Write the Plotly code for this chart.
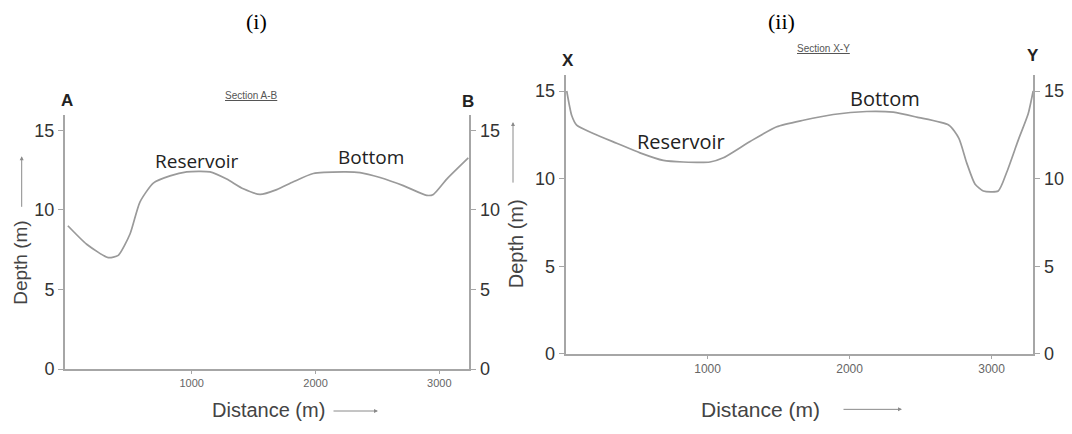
import plotly.graph_objects as go

W, H = 1072, 434

# ---- data: Section A-B (i) ----
dist_ab = [0, 152, 326, 407, 502, 582, 690, 825, 960, 1148, 1283, 1417, 1552,
           1687, 1821, 1982, 2225, 2359, 2521, 2709, 2898, 2952, 3060, 3234]
depth_ab = [9.0, 7.84, 7.0, 7.14, 8.48, 10.49, 11.68, 12.13, 12.38, 12.38, 11.93,
            11.32, 10.97, 11.27, 11.76, 12.28, 12.38, 12.34, 12.03, 11.52, 10.91,
            10.97, 11.93, 13.26]

# ---- data: Section X-Y (ii) ----
dist_xy = [8, 43, 78, 195, 360, 524, 688, 829, 1017, 1111, 1299, 1487, 1674, 1885,
           2120, 2308, 2473, 2700, 2770, 2825, 2883, 2942, 3047, 3106, 3188, 3258, 3293]
depth_xy = [15.0, 13.6, 13.05, 12.58, 12.02, 11.47, 11.04, 10.95, 10.95, 11.19, 12.12,
            12.96, 13.33, 13.66, 13.83, 13.79, 13.51, 13.05, 12.3, 10.9, 9.7, 9.3, 9.3,
            10.35, 12.2, 13.7, 15.0]

x_ticks = [1000, 2000, 3000]
y_ticks = [0, 5, 10, 15]


def px(x):
    return x / W


def py(y):
    return 1 - y / H


LINE = "#9a9a9a"
AX = "#a6a6a6"
TICKFONT = dict(family="Liberation Sans, Arial", size=18, color="#333333")
XTICKFONT = dict(family="Liberation Sans, Arial", size=11, color="#666666")

fig = go.Figure()

curve = dict(mode="lines", line=dict(color=LINE, width=1.7, shape="spline", smoothing=0.6),
             hoverinfo="skip", showlegend=False)
ghost = dict(mode="lines", line=dict(color="rgba(0,0,0,0)", width=0),
             hoverinfo="skip", showlegend=False)

fig.add_trace(go.Scatter(x=dist_ab, y=depth_ab, xaxis="x", yaxis="y", **curve))
fig.add_trace(go.Scatter(x=dist_ab, y=depth_ab, xaxis="x", yaxis="y2", **ghost))
fig.add_trace(go.Scatter(x=dist_xy, y=depth_xy, xaxis="x2", yaxis="y3", **curve))
fig.add_trace(go.Scatter(x=dist_xy, y=depth_xy, xaxis="x2", yaxis="y4", **ghost))

xcommon = dict(showline=True, linecolor=AX, linewidth=2, showgrid=False, zeroline=False,
               tickvals=x_ticks, ticks="outside", ticklen=3, tickcolor=AX,
               tickfont=XTICKFONT, fixedrange=True)
ycommon = dict(showline=True, linecolor=AX, linewidth=2, showgrid=False, zeroline=False,
               tickvals=y_ticks, ticks="outside", ticklen=5, tickcolor=AX,
               tickfont=TICKFONT, fixedrange=True)

fig.update_layout(
    width=W, height=H,
    margin=dict(l=0, r=0, t=0, b=0),
    paper_bgcolor="white", plot_bgcolor="white",
    xaxis=dict(domain=[px(65), px(469.3)], range=[-23, 3242], anchor="y", **xcommon),
    yaxis=dict(domain=[py(377.7), py(118)], range=[0, 15.94], anchor="x", side="left", **ycommon),
    yaxis2=dict(range=[0, 15.94], anchor="x", overlaying="y", side="right", **ycommon),
    xaxis2=dict(domain=[px(565.6), px(1033.3)], range=[0, 3294], anchor="y3",
                **{**xcommon, "tickfont": dict(family="Liberation Sans, Arial", size=12, color="#666666")}),
    yaxis3=dict(domain=[py(362.3), py(77)], range=[0, 15.9], anchor="x2", side="left", **ycommon),
    yaxis4=dict(range=[0, 15.9], anchor="x2", overlaying="y3", side="right", **ycommon),
)

ann = []


def txt(x, y, text, size, color="#333333", family="Liberation Sans, Arial", angle=0, ref="paper", xr=None, yr=None):
    d = dict(x=x, y=y, text=text, showarrow=False, textangle=angle,
             font=dict(family=family, size=size, color=color),
             xanchor="center", yanchor="middle")
    if ref == "paper":
        d.update(xref="paper", yref="paper")
    else:
        d.update(xref=xr, yref=yr)
    ann.append(d)


def arrow(hx, hy, ax, ay):
    ann.append(dict(x=px(hx), y=py(hy), xref="paper", yref="paper", text="",
                    showarrow=True, ax=ax, ay=ay, arrowhead=2, arrowsize=0.8,
                    arrowwidth=1, arrowcolor="#8a8a8a"))


# panel labels
txt(px(256), py(22), "(i)", 22, "#000000", "Liberation Serif, Times New Roman")
txt(px(781), py(22), "(ii)", 22, "#000000", "Liberation Serif, Times New Roman")

# section headings
txt(px(251), py(98), "<u>Section A-B</u>", 10, "#555555")
txt(px(823), py(50), "<u>Section X-Y</u>", 10, "#555555")

# end letters
txt(px(67), py(103), "<b>A</b>", 17, "#222222")
txt(px(468), py(104), "<b>B</b>", 17, "#222222")
txt(px(568), py(62), "<b>X</b>", 17, "#222222")
txt(px(1033), py(57), "<b>Y</b>", 17, "#222222")

# curve labels
txt(1043, 13.06, "Reservoir", 19, "#222222", "Open Sans", ref="data", xr="x", yr="y")
txt(2448, 13.3, "Bottom", 19, "#222222", "Open Sans", ref="data", xr="x", yr="y")
txt(816, 12.12, "Reservoir", 20, "#222222", "Open Sans", ref="data", xr="x2", yr="y3")
txt(2249, 14.59, "Bottom", 20, "#222222", "Open Sans", ref="data", xr="x2", yr="y3")

# axis titles
txt(px(268), py(420), "Distance (m)", 20, "#444444")
txt(px(760), py(419), "Distance (m)", 21, "#444444")
txt(px(21), py(269), "Depth (m)", 19, "#444444", angle=-90)
txt(px(516), py(250), "Depth (m)", 20, "#444444", angle=-90)

# arrows beside axis titles
arrow(378, 420.7, -46, 0)
arrow(902, 419, -60, 0)
arrow(21.7, 160, 0, 52)
arrow(513, 125, 0, 62)
fig.update_layout(annotations=ann)

fig.write_html("out.html", config={"displayModeBar": False},
               post_script="document.body.style.margin='0';document.body.style.overflow='hidden';")
